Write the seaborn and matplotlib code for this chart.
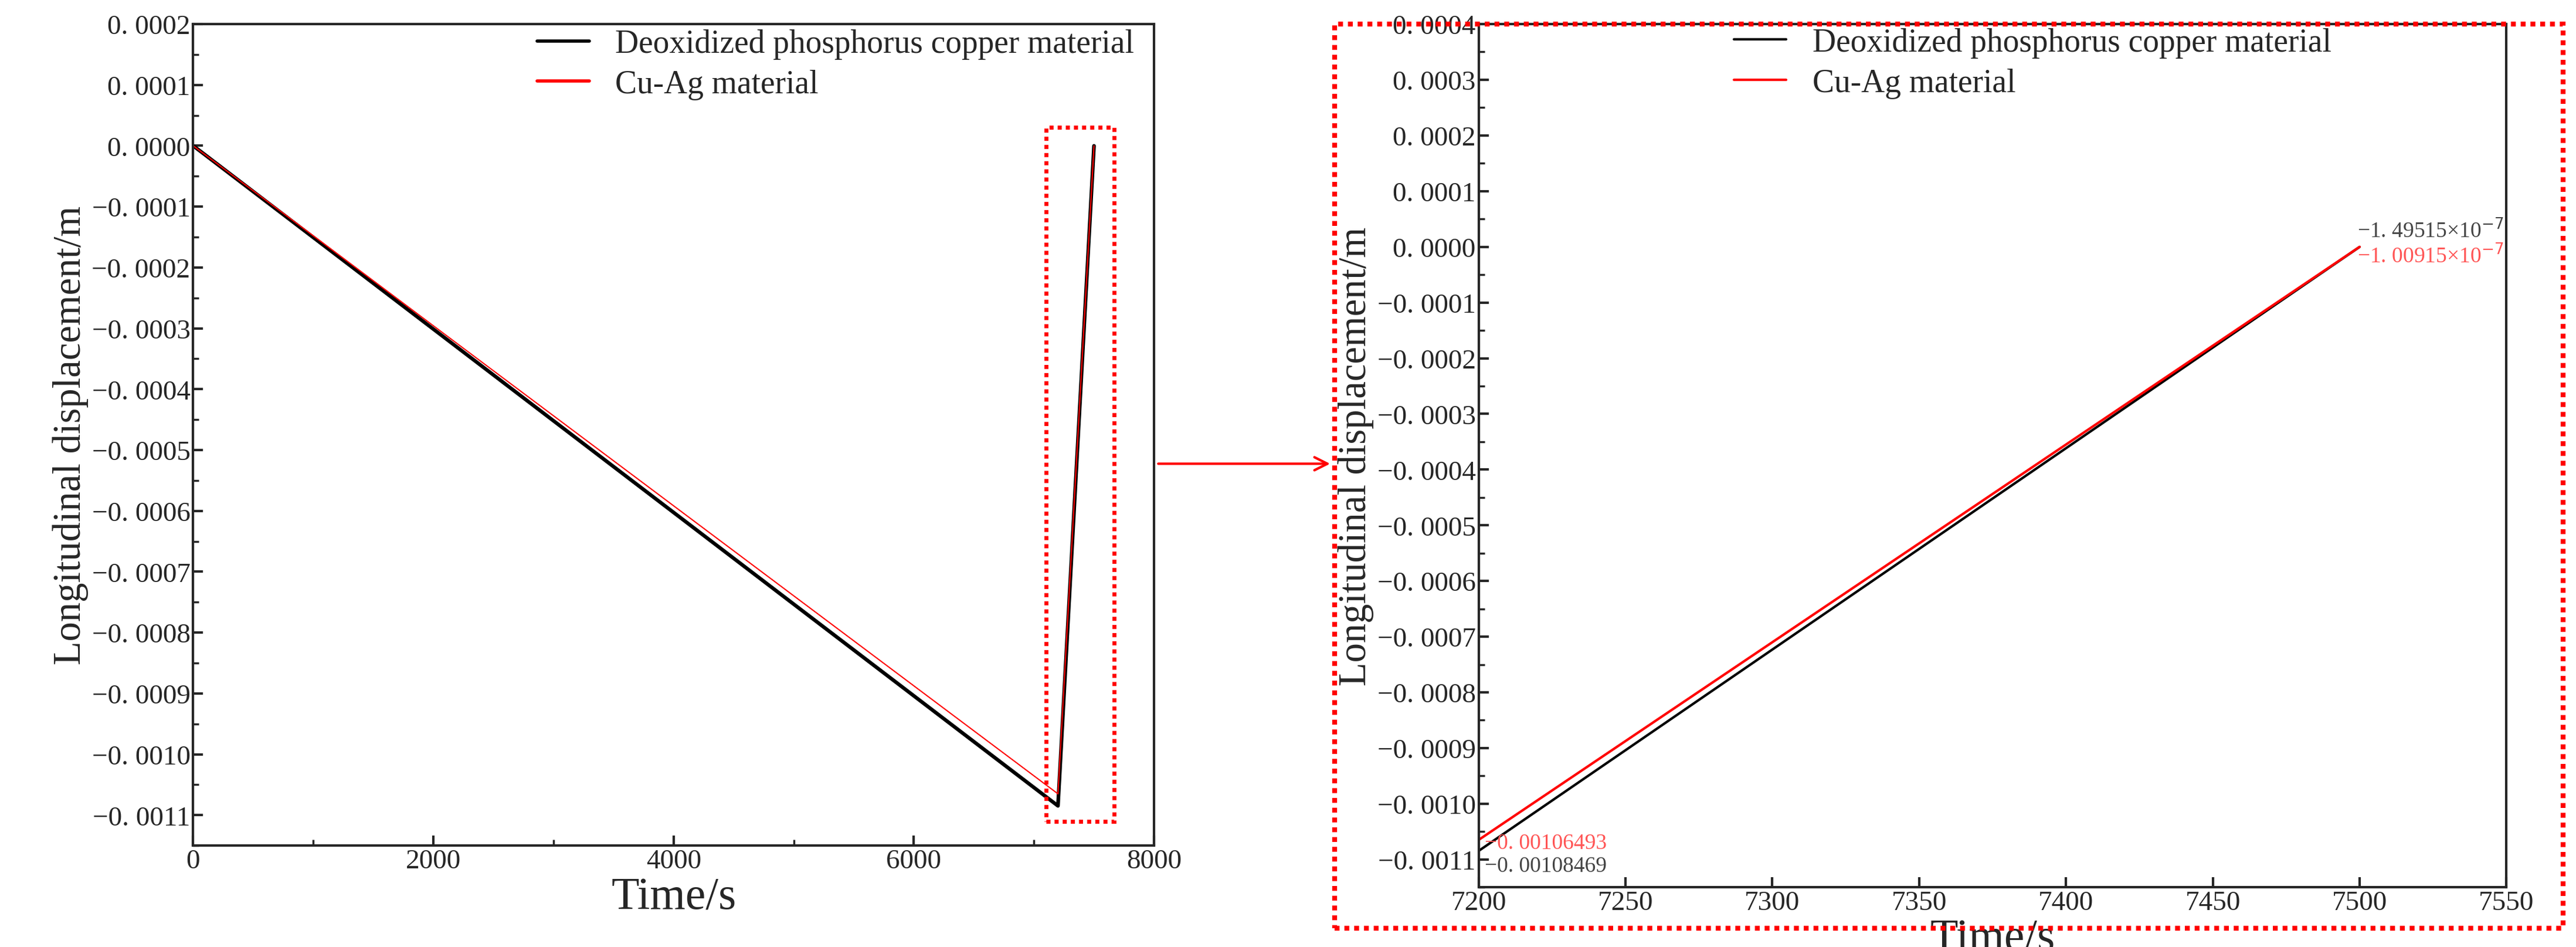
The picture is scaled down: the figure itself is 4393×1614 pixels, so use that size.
import numpy as np
import pandas as pd
import seaborn as sns
import matplotlib.pyplot as plt
from matplotlib.patches import Rectangle

sns.set_style('ticks')
plt.rcParams['font.family'] = ['Liberation Serif', 'DejaVu Serif']
plt.rcParams['axes.unicode_minus'] = True

# data
time_s = [0, 7200, 7500]
copper_disp = [0.0, -0.00108469, -1.49515e-7]
cuag_disp = [0.0, -0.00106493, -1.00915e-7]
series_names = ['Deoxidized phosphorus copper material', 'Cu-Ag material']

df = pd.DataFrame({
    'Time': time_s * 2,
    'Disp': copper_disp + cuag_disp,
    'Material': [series_names[0]] * 3 + [series_names[1]] * 3,
})
zoom = df[df['Time'] >= 7200]

fig = plt.figure(figsize=(43.93, 16.15), dpi=100)
ax1 = fig.add_axes([0.075, 0.107, 0.373, 0.867])
ax2 = fig.add_axes([0.574, 0.063, 0.399, 0.911])

def fmt(v, p):
    s = ('%.4f' % abs(v))[2:]
    return ('\u22120. ' + s) if v < -1e-12 else '0. ' + s

def style(ax):
    ax.tick_params(direction='in', which='both', labelsize=34, width=3, length=12)
    ax.tick_params(which='minor', length=7, width=2.5)
    for s in ax.spines.values():
        s.set_linewidth(3)
    ax.set_xlabel('Time/s', fontsize=56)
    ax.set_ylabel('Longitudinal displacement/m', fontsize=48)
    ax.yaxis.set_major_formatter(plt.FuncFormatter(fmt))

sns.lineplot(data=df, x='Time', y='Disp', hue='Material', palette=['black', 'red'],
             ax=ax1, linewidth=4, estimator=None, sort=False)
for ln, lw in zip(ax1.lines, [4.5, 1.5]):
    ln.set_linewidth(lw)
ax1.set_xlim(0, 8000)
ax1.set_ylim(-0.00115, 0.0002)
ax1.set_xticks(np.arange(0, 8001, 2000))
ax1.set_yticks(np.arange(-0.0011, 0.00021, 0.0001))
ax1.set_yticks(np.arange(-0.00115, 0.0002, 0.00005), minor=True)
ax1.set_xticks(np.arange(0, 8001, 1000), minor=True)
style(ax1)
ax1.legend(title=None, frameon=False, fontsize=40, loc='upper right', bbox_to_anchor=(1.01, 1.03),
           handlelength=1.6, labelspacing=0.3)
ax1.add_patch(Rectangle((7100, -0.00111), 570, 0.00114, fill=False, edgecolor='red',
                        linestyle=(0, (1, 1)), linewidth=5, zorder=5))

sns.lineplot(data=zoom, x='Time', y='Disp', hue='Material', palette=['black', 'red'],
             ax=ax2, linewidth=3, estimator=None, sort=False)
ax2.set_xlim(7200, 7550)
ax2.set_ylim(-0.00113, 0.0004)
ax2.set_xticks(np.arange(7200, 7551, 50))
ax2.set_yticks(np.arange(-0.0011, 0.00041, 0.0001))
ax2.set_yticks(np.arange(-0.00115, 0.0004, 0.00005), minor=True)
style(ax2)
ax2.legend(title=None, frameon=False, fontsize=40, loc='upper left', bbox_to_anchor=(0.22, 1.03),
           handlelength=1.6, labelspacing=0.3)

ax2.text(7549, 0.00003, '\u22121. 49515\u00d710$^{-7}$', color='#444444', fontsize=27, ha='right', va='center')
ax2.text(7549, -0.000015, '\u22121. 00915\u00d710$^{-7}$', color='#ff5555', fontsize=27, ha='right', va='center')
ax2.text(7202, -0.00107, '\u22120. 00106493', color='#ff5555', fontsize=27, ha='left', va='center')
ax2.text(7202, -0.001112, '\u22120. 00108469', color='#444444', fontsize=27, ha='left', va='center')

fig.patches.append(Rectangle((0.518, 0.02), 0.477, 0.954, transform=fig.transFigure, fill=False,
                             edgecolor='red', linestyle=(0, (1, 1)), linewidth=6))
plt.annotate('', xy=(0.517, 0.51), xytext=(0.449, 0.51), xycoords='figure fraction',
             arrowprops=dict(arrowstyle='->,head_length=1.6,head_width=0.8', color='red', lw=3))

fig.savefig('out.png', dpi=100)
